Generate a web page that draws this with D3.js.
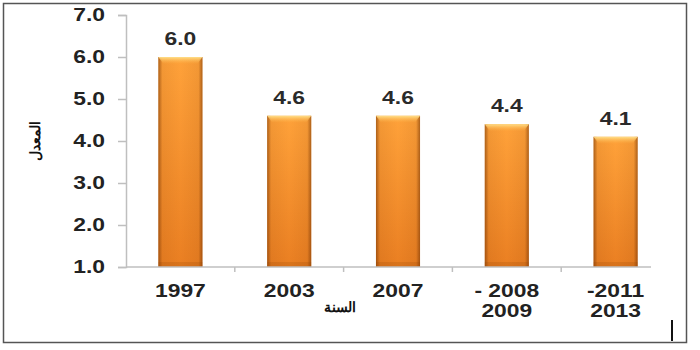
<!DOCTYPE html>
<html>
<head>
<meta charset="utf-8">
<script src="https://cdn.jsdelivr.net/npm/d3@7"></script>
<style>
  body { margin: 0; background: #fff; }
  svg text { font-family: "Liberation Sans", Arial, sans-serif; }
</style>
</head>
<body>
<div id="chart"></div>
<script>
// بيانات الرسم
const years = ['1997', '2003', '2007', '2008 - 2009', '2011-2013'];
const yearLines = [['1997'], ['2003'], ['2007'], ['- 2008', '2009'], ['-2011', '2013']];
const rates = [6.0, 4.6, 4.6, 4.4, 4.1];
const yTicks = [1, 2, 3, 4, 5, 6, 7];
const yTitle = 'المعدل';
const xTitle = 'السنة';

const width = 700;
const height = 350;
const stretch = 1.27; // النص في الصورة الأصلية ممدود أفقيا

const svg = d3.select('#chart')
    .append('svg')
    .attr('width', width)
    .attr('height', height);

// إطار الرسم
svg.append('rect')
    .attr('x', 3.5).attr('y', 3.5)
    .attr('width', 683).attr('height', 339)
    .attr('fill', '#fff')
    .attr('stroke', '#555')
    .attr('stroke-width', 1.5);

const x = d3.scaleBand()
    .domain(years)
    .range([126, 670])
    .paddingInner(0.595)
    .paddingOuter(0.2975);

const y = d3.scaleLinear()
    .domain([1, 7])
    .range([267, 15]);

// التدرجات اللونية للأعمدة
const defs = svg.append('defs');
const vGrad = defs.append('linearGradient')
    .attr('id', 'barV').attr('x1', 0).attr('y1', 0).attr('x2', 0).attr('y2', 1);
vGrad.append('stop').attr('offset', '0%').attr('stop-color', '#FFA23A');
vGrad.append('stop').attr('offset', '100%').attr('stop-color', '#EA7F22');

const hGrad = defs.append('linearGradient')
    .attr('id', 'barH').attr('x1', 0).attr('y1', 0).attr('x2', 1).attr('y2', 0);
hGrad.append('stop').attr('offset', '0%').attr('stop-color', '#6a2c00').attr('stop-opacity', 0.55);
hGrad.append('stop').attr('offset', '9%').attr('stop-color', '#6a2c00').attr('stop-opacity', 0.08);
hGrad.append('stop').attr('offset', '50%').attr('stop-color', '#6a2c00').attr('stop-opacity', 0);
hGrad.append('stop').attr('offset', '91%').attr('stop-color', '#6a2c00').attr('stop-opacity', 0.08);
hGrad.append('stop').attr('offset', '100%').attr('stop-color', '#6a2c00').attr('stop-opacity', 0.55);

const topGrad = defs.append('linearGradient')
    .attr('id', 'barTop').attr('x1', 0).attr('y1', 0).attr('x2', 0).attr('y2', 1);
topGrad.append('stop').attr('offset', '0%').attr('stop-color', '#FFE08A');
topGrad.append('stop').attr('offset', '100%').attr('stop-color', '#FFB347').attr('stop-opacity', 0);

// المحور الصادي
const yAxis = svg.append('g')
    .attr('transform', 'translate(126,0)')
    .call(d3.axisLeft(y).tickValues(yTicks).tickFormat(d3.format('.1f')).tickSize(8).tickPadding(13));
yAxis.select('.domain').attr('stroke', '#BFBFBF').attr('stroke-width', 1.5);
yAxis.selectAll('.tick line').attr('stroke', '#BFBFBF').attr('stroke-width', 1.5);
yAxis.selectAll('.tick text')
    .attr('font-size', 18)
    .attr('font-weight', 'bold')
    .attr('fill', '#222')
    .attr('x', -21 / stretch)
    .attr('transform', `scale(${stretch},1)`);

// الأعمدة
const bars = svg.append('g').selectAll('g')
    .data(rates)
    .enter().append('g');

bars.append('rect')
    .attr('x', (d, i) => x(years[i]))
    .attr('y', d => y(d))
    .attr('width', x.bandwidth())
    .attr('height', d => y(1) - y(d))
    .attr('fill', 'url(#barV)');

bars.append('rect')
    .attr('x', (d, i) => x(years[i]))
    .attr('y', d => y(d))
    .attr('width', x.bandwidth())
    .attr('height', d => y(1) - y(d))
    .attr('fill', 'url(#barH)');

bars.append('path')
    .attr('d', (d, i) => {
        const x0 = x(years[i]), w = x.bandwidth(), y0 = y(d);
        return `M${x0},${y0}H${x0 + w}L${x0 + w - 5},${y0 + 7}H${x0 + 5}Z`;
    })
    .attr('fill', 'url(#barTop)');

bars.append('rect')
    .attr('x', (d, i) => x(years[i]))
    .attr('y', y(1) - 5)
    .attr('width', x.bandwidth())
    .attr('height', 5)
    .attr('fill', '#8a3c00')
    .attr('opacity', 0.18);

// قيم الأعمدة
bars.append('text')
    .attr('transform', (d, i) => `translate(${x(years[i]) + x.bandwidth() / 2},${y(d) - 12}) scale(${stretch},1)`)
    .attr('text-anchor', 'middle')
    .attr('font-size', 18)
    .attr('font-weight', 'bold')
    .attr('fill', '#2a2a2a')
    .text(d => d.toFixed(1));

// المحور السيني
const xAxis = svg.append('g')
    .attr('transform', `translate(0,${y(1)})`)
    .call(d3.axisBottom(x).tickSize(0).tickFormat(''));
xAxis.select('.domain').attr('d', 'M126,0H651').attr('stroke', '#BFBFBF').attr('stroke-width', 1.5);

// علامات الحدود بين الفئات
svg.append('g').selectAll('line')
    .data(years.slice(1))
    .enter().append('line')
    .attr('x1', d => x(d) - x.step() * x.paddingInner() / 2)
    .attr('x2', d => x(d) - x.step() * x.paddingInner() / 2)
    .attr('y1', y(1))
    .attr('y2', y(1) + 5)
    .attr('stroke', '#BFBFBF')
    .attr('stroke-width', 1.5);

// تسميات السنوات
xAxis.selectAll('.tick').each(function (d, i) {
    const t = d3.select(this).append('text')
        .attr('transform', `translate(0,30) scale(${stretch},1)`)
        .attr('text-anchor', 'middle')
        .attr('font-size', 18)
        .attr('font-weight', 'bold')
        .attr('fill', '#222');
    yearLines[i].forEach((line, j) => {
        t.append('tspan').attr('x', 0).attr('dy', j === 0 ? 0 : 20).text(line);
    });
});

// عناوين المحاور
svg.append('text')
    .attr('transform', 'translate(40,141) rotate(-90)')
    .attr('text-anchor', 'middle')
    .attr('font-size', 14)
    .attr('font-weight', 'bold')
    .attr('fill', '#111')
    .text(yTitle);

svg.append('text')
    .attr('x', 340)
    .attr('y', 312)
    .attr('text-anchor', 'middle')
    .attr('font-size', 14)
    .attr('font-weight', 'bold')
    .attr('fill', '#111')
    .text(xTitle);

// علامة عمودية صغيرة في الزاوية
svg.append('line')
    .attr('x1', 672).attr('x2', 672)
    .attr('y1', 320).attr('y2', 341)
    .attr('stroke', '#111')
    .attr('stroke-width', 2);
</script>
</body>
</html>
